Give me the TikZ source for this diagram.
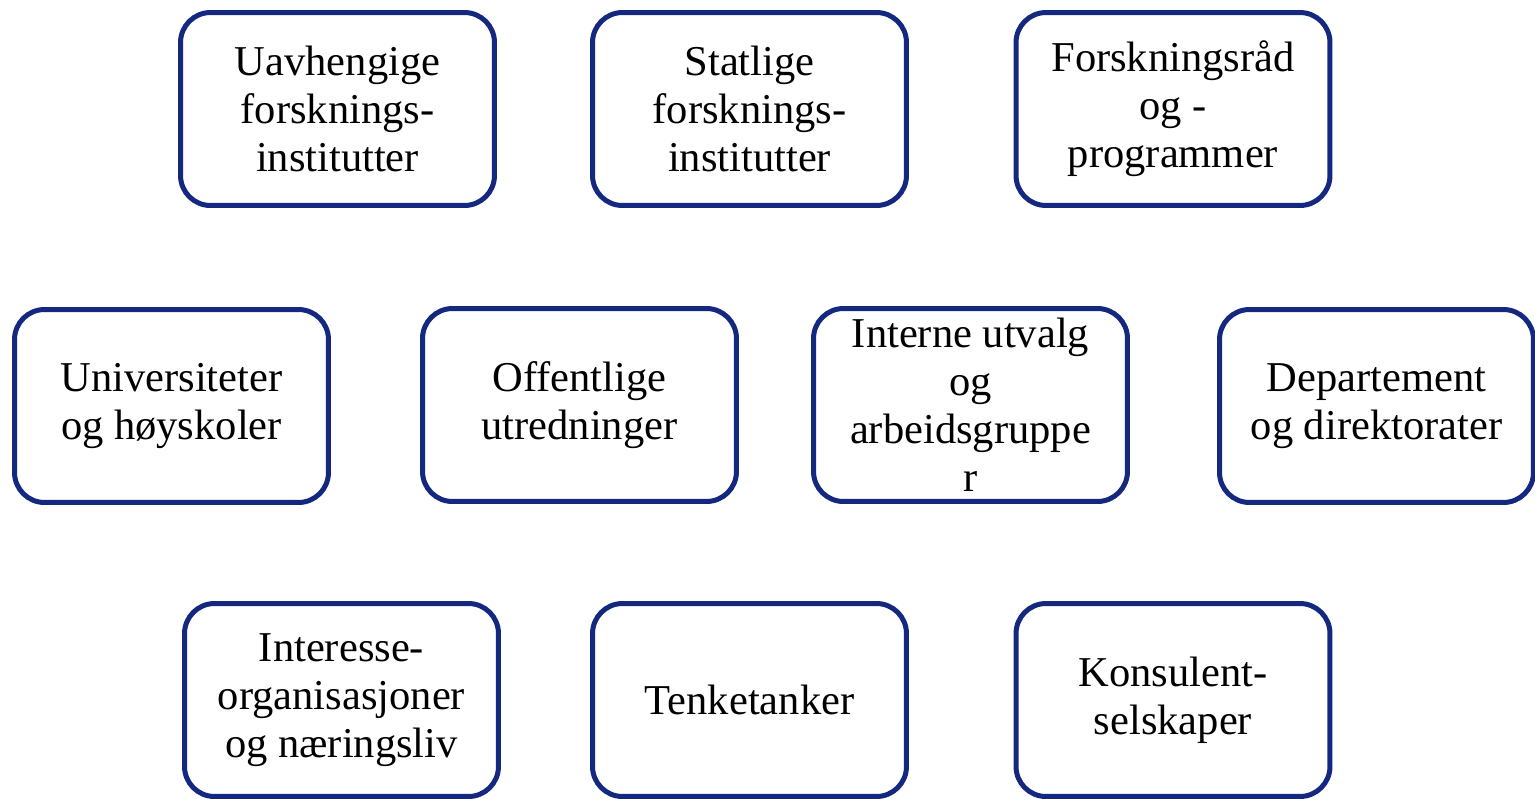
\documentclass[tikz,border=0pt]{standalone}
\usepackage{fontspec}
\setmainfont{Liberation Serif}
\usepackage{tikz}
\definecolor{boxnavy}{RGB}{20,40,128}

\tikzset{
   orgbox/.style={
      draw = boxnavy,
      line width = 0.1cm,
      rounded corners = 0.6cm,
      minimum width = 6.28cm,
      minimum height = 3.86cm,
      align = center,
      font = \fontsize{24.2}{27.4}\selectfont
   }
}

\begin{document}
\begin{tikzpicture}[x=0.02cm, y=-0.02cm]
   \useasboundingbox (0,0) rectangle (1535,798);

   % top row
   \node[orgbox] (uavh) at (337.5,109) {Uavhengige\\forsknings-\\institutter};
   \node[orgbox] (statl) at (749.5,109) {Statlige\\forsknings-\\institutter};
   \node[orgbox] (forskr) at (1173,109) {Forskningsråd\\og -\\programmer};

   % middle row
   \node[orgbox] (univ) at (171.5,406) {Universiteter\\og høyskoler};
   \node[orgbox] (offutr) at (579.5,405) {Offentlige\\utredninger};
   \node[orgbox] (intutv) at (970.5,405) {Interne utvalg\\og\\arbeidsgruppe\\r};
   \node[orgbox] (dep) at (1376.5,406) {Departement\\og direktorater};

   % bottom row
   \node[orgbox] (interesse) at (341.5,700) {Interesse-\\organisasjoner\\og næringsliv};
   \node[orgbox] (tenke) at (749.5,700) {Tenketanker};
   \node[orgbox] (konsul) at (1173,700) {Konsulent-\\selskaper};

\end{tikzpicture}
\end{document}
